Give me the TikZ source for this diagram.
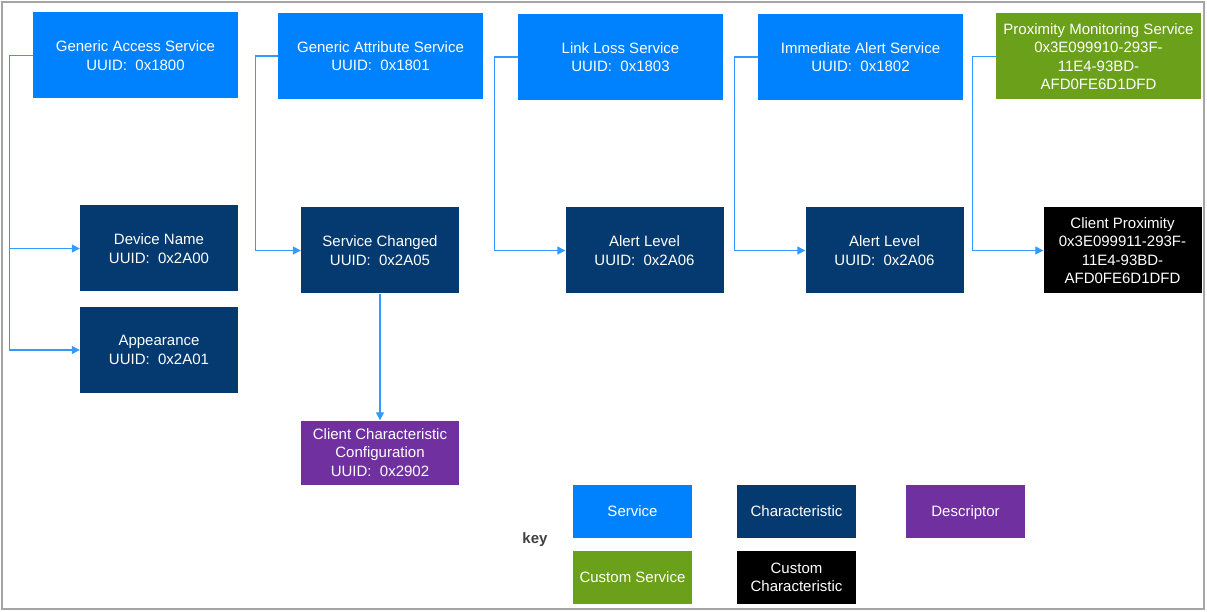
\documentclass[tikz,border=0pt]{standalone}
\usepackage{fontspec}
\setmainfont{Liberation Sans}
\usetikzlibrary{arrows.meta, positioning}
\definecolor{svcblue}{RGB}{0,130,255}
\definecolor{chrblue}{RGB}{4,58,112}
\definecolor{dscpurple}{RGB}{112,48,160}
\definecolor{csvcgreen}{RGB}{106,160,26}
\definecolor{linkblue}{RGB}{51,153,255}
\definecolor{frame}{RGB}{165,165,165}

\begin{document}
\begin{tikzpicture}[x=1pt, y=-1pt,
    box/.style={align=center, text=white, inner sep=0pt,
                font=\fontsize{15}{18.5}\selectfont},
    svc/.style={box, fill=svcblue, minimum width=205pt, minimum height=86pt},
    csvc/.style={box, fill=csvcgreen, minimum width=205pt, minimum height=86pt},
    chr/.style={box, fill=chrblue, minimum width=158pt, minimum height=86pt},
    cchr/.style={box, fill=black, minimum width=158pt, minimum height=86pt},
    dsc/.style={box, fill=dscpurple, minimum width=158pt, minimum height=64pt},
    keybox/.style={box, minimum width=119pt, minimum height=53pt},
    flow/.style={-{Triangle[length=8pt,width=8pt]}, draw=linkblue,
                 line width=1.3pt},
]
\useasboundingbox (0,0) rectangle (1207,612);
\draw[frame, line width=2pt] (2,2) rectangle (1204,609);

% services
\node[svc]  (gas)  at (135.5,55.5) {Generic Access Service\\UUID:~ 0x1800};
\node[svc]  (gatt) at (380.5,56) {Generic Attribute Service\\UUID:~ 0x1801};
\node[svc]  (lls)  at (620.5,57) {Link Loss Service\\UUID:~ 0x1803};
\node[svc]  (ias)  at (860.5,57) {Immediate Alert Service\\UUID:~ 0x1802};
\node[csvc] (pms)  at (1098.5,56.5)
   {Proximity Monitoring Service\\0x3E099910-293F-\\11E4-93BD-\\AFD0FE6D1DFD};

% characteristics
\node[chr]  (dev)  at (159,248.5) {Device Name\\UUID:~ 0x2A00};
\node[chr]  (app)  at (159,350)   {Appearance\\UUID:~ 0x2A01};
\node[chr]  (chg)  at (380,250.5) {Service Changed\\UUID:~ 0x2A05};
\node[chr]  (al1)  at (644.5,250.5) {Alert Level\\UUID:~ 0x2A06};
\node[chr]  (al2)  at (884.5,250.5) {Alert Level\\UUID:~ 0x2A06};
\node[cchr] (cprx) at (1122.5,250.5)
   {Client Proximity\\0x3E099911-293F-\\11E4-93BD-\\AFD0FE6D1DFD};

% descriptor
\node[dsc]  (ccc)  at (380,452.5)
   {Client Characteristic\\Configuration\\UUID:~ 0x2902};

% links
\draw[flow] (gas.west)  -- ++(-23,0) |- (dev.west);
\draw[flow] (gas.west)  -- ++(-23,0) |- (app.west);
\draw[flow] (gatt.west) -- ++(-22,0) |- (chg.west);
\draw[flow] (lls.west)  -- ++(-23,0) |- (al1.west);
\draw[flow] (ias.west)  -- ++(-23,0) |- (al2.west);
\draw[flow] (pms.west)  -- ++(-23,0) |- (cprx.west);
\draw[flow] (chg.south) -- (ccc.north);

% key
\node[font=\fontsize{15}{18}\selectfont\bfseries, text=black!75] (key) at (535,540) {key};
\node[keybox, fill=svcblue]   (ksvc)  at (632.5,511.5) {Service};
\node[keybox, fill=chrblue]   (kchr)  at (796.5,511.5) {Characteristic};
\node[keybox, fill=dscpurple, text depth=0pt] (kdsc) at (965.5,511.5) {Descriptor};
\node[keybox, fill=csvcgreen] (kcsvc) at (632.5,577.5) {Custom Service};
\node[keybox, fill=black]     (kcchr) at (796.5,577.5) {Custom\\Characteristic};
\end{tikzpicture}
\end{document}
